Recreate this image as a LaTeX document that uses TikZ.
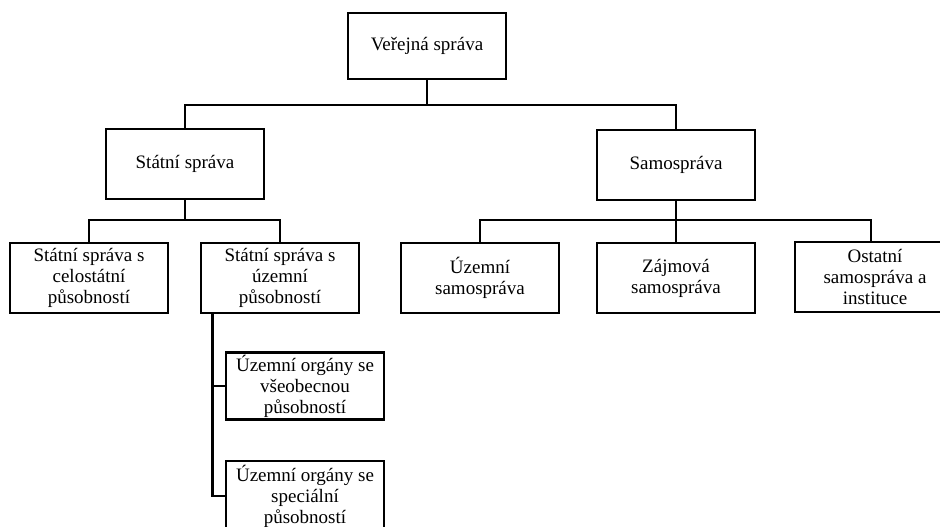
\documentclass[tikz,border=0pt]{standalone}
\usepackage{fontspec}
\setmainfont{Liberation Serif}
\usetikzlibrary{positioning}

\begin{document}
\begin{tikzpicture}[x=1pt,y=-1pt,
  box/.style={draw,line width=2.8pt,minimum width=158pt,minimum height=70pt,align=center,inner sep=2pt,font=\fontsize{19}{21}\selectfont},
  link/.style={line width=2.4pt}]
\useasboundingbox (0,0) rectangle (940,527);
\clip (0,0) rectangle (940,527);
% top level
\node[box,minimum height=66pt] (vs) at (427,46) {Veřejná správa};
\node[box] (ss) at (185,164) {Státní správa};
\node[box] (sam) at (676,165) {Samospráva};
% state administration
\node[box] (celo) at (89,278) {Státní správa s\\celostátní\\působností};
\node[box] (uzs) at (280,278) {Státní správa s\\územní\\působností};
\node[box,minimum height=67pt] (vseob) at (305,386) {Územní orgány se\\všeobecnou\\působností};
\node[box] (spec) at (305,496) {Územní orgány se\\speciální\\působností};
% self-government
\node[box] (usam) at (480,278) {Územní\\samospráva};
\node[box] (zaj) at (676,278) {Zájmová\\samospráva};
\node[box,minimum width=160pt] (ost) at (875,277) {Ostatní\\samospráva a\\instituce};
% connectors
\coordinate (j1) at (427,105);
\coordinate (j2) at (185,220);
\coordinate (j3) at (676,220);
\coordinate (t) at ([xshift=13pt]uzs.south west);
\draw[link] (vs.south) -- (j1);
\draw[link] (ss.north) |- (j1) -| (sam.north);
\draw[link] (ss.south) -- (j2);
\draw[link] (celo.north) |- (j2) -| (uzs.north);
\draw[link] (sam.south) -- (zaj.north);
\draw[link] (usam.north) |- (j3) -| ([xshift=-4pt]ost.north);
\draw[link] (t) |- (vseob.west);
\draw[link] (t) |- (spec.west);
\end{tikzpicture}
\end{document}
